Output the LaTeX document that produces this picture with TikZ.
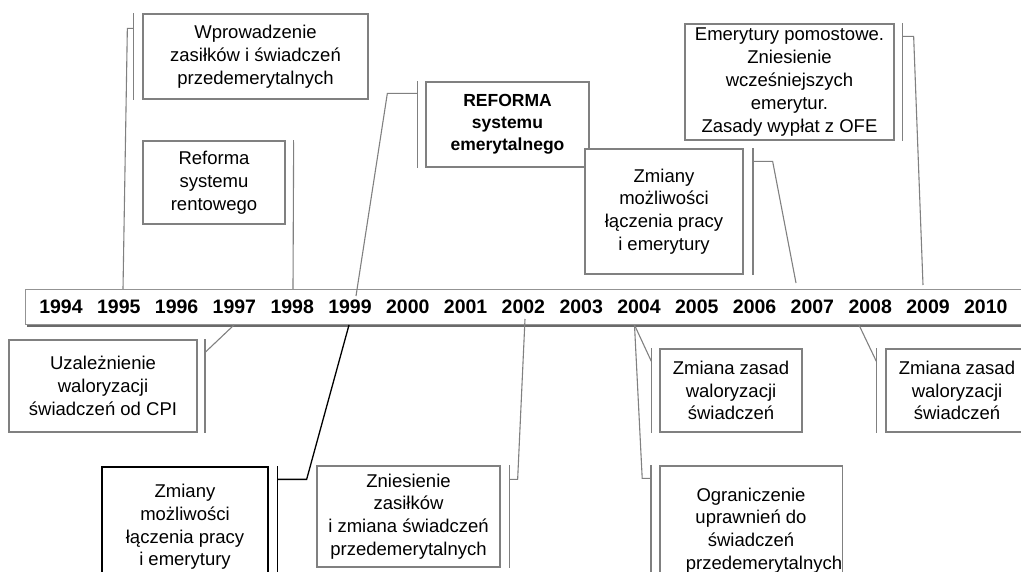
\documentclass[tikz,border=0pt]{standalone}
\usepackage{fontspec}
\setmainfont{Liberation Sans}
\usetikzlibrary{calc}
\definecolor{cg}{HTML}{808080}
\definecolor{cgd}{HTML}{6A6A6A}
\tikzset{
  cbox/.style={draw=cg, line width=1.3pt, fill=white, align=center, inner sep=0pt,
    font=\fontsize{18.5}{22.8}\selectfont},
  bbox/.style={cbox, draw=black},
  abar/.style={draw=cg, line width=1.5pt},
  bbar/.style={draw=black, line width=1.5pt},
  lead/.style={draw=cg, line width=1.1pt, line join=miter},
  blead/.style={draw=black, line width=1.3pt, line join=miter},
  yr/.style={font=\bfseries\fontsize{19.5}{20}\selectfont, anchor=base, inner sep=0pt},
}
\begin{document}
\begin{tikzpicture}[x=1pt,y=-1pt]
\useasboundingbox (0,0) rectangle (1021,572);
\clip (0,0) rectangle (1021,572);

% timeline bar with shadow
\fill[cgd] (26.5,291.5) rectangle (1040,327);
\node[draw=cg!85, line width=1pt, fill=white, minimum width=1015pt, minimum height=35pt,
  anchor=north west, inner sep=0pt] (tl) at (25,289) {};
\foreach \yy [count=\i from 0] in {1994,...,2010}
  \node[yr] (y\yy) at (61+57.8*\i,314) {\yy};

% targets on the timeline
\coordinate (t1) at (123,289);
\coordinate (t2) at (293,289);
\coordinate (t3) at (356,296);
\coordinate (t4) at (796,283);
\coordinate (t5) at (923,285);
\coordinate (t6) at (234,325);
\coordinate (t7) at (349,325);
\coordinate (t8) at (525,319);
\coordinate (t9) at (634.5,325);
\coordinate (t11) at (859,325);

% ---- top callouts
\node[cbox, minimum width=225pt, minimum height=85pt] (c1) at (255.5,56.5)
  {Wprowadzenie\\zasiłków i świadczeń\\przedemerytalnych};
\draw[abar] ($(c1.north west)+(-9,0)$) -- ($(c1.south west)+(-9,0)$);
\draw[lead] ($(c1.north west)+(-9,15)$) -- ++(-6,0) -- (t1);

\node[cbox, minimum width=142pt, minimum height=83pt] (c2) at (214,182.5)
  {Reforma\\systemu\\rentowego};
\draw[abar] ($(c2.north east)+(8,0)$) -- ($(c2.south east)+(8,0)$);
\draw[lead] ($(c2.north east)+(8,2)$) -- (t2);

\node[cbox, minimum width=163pt, minimum height=85pt, font=\bfseries\fontsize{17.5}{22}\selectfont] (c3) at (507.5,124.5)
  {REFORMA\\systemu\\emerytalnego};
\draw[abar] ($(c3.north west)+(-8,0)$) -- ($(c3.south west)+(-8,0)$);
\draw[lead] ($(c3.north west)+(-8,12)$) -- ++(-30,0) -- (t3);

\node[cbox, minimum width=158pt, minimum height=125pt] (c4) at (664,211.5)
  {Zmiany\\możliwości\\łączenia pracy\\i emerytury};
\draw[abar] ($(c4.north east)+(9.5,0)$) -- ($(c4.south east)+(9.5,0)$);
\draw[lead] ($(c4.north east)+(9.5,13)$) -- ++(19.5,0) -- (t4);

\node[cbox, minimum width=209pt, minimum height=116pt] (c5) at (789.5,82)
  {Emerytury pomostowe.\\Zniesienie\\wcześniejszych\\emerytur.\\Zasady wypłat z OFE};
\draw[abar] ($(c5.north east)+(8,0)$) -- ($(c5.south east)+(8,0)$);
\draw[lead] ($(c5.north east)+(8,13)$) -- ++(11,0) -- (t5);

% ---- bottom callouts
\node[cbox, minimum width=188pt, minimum height=92pt] (c6) at (103,386)
  {Uzależnienie\\waloryzacji\\świadczeń od CPI};
\draw[abar] ($(c6.north east)+(7.5,0)$) -- ($(c6.south east)+(7.5,0)$);
\draw[lead] ($(c6.north east)+(7.5,13)$) -- (t6);

\node[bbox, minimum width=166pt, minimum height=120pt] (c7) at (185,527)
  {Zmiany\\możliwości\\łączenia pracy\\i emerytury};
\draw[bbar] ($(c7.north east)+(9,0)$) -- ($(c7.south east)+(9,0)$);
\draw[blead] ($(c7.north east)+(9,13)$) -- ++(29,0) -- (t7);

\node[cbox, minimum width=183pt, minimum height=101pt] (c8) at (408.5,516.5)
  {Zniesienie\\zasiłków\\i zmiana świadczeń\\przedemerytalnych};
\draw[abar] ($(c8.north east)+(9,0)$) -- ($(c8.south east)+(9,0)$);
\draw[lead] ($(c8.north east)+(9,14)$) -- ++(8,0) -- (t8);

\node[cbox, minimum width=142pt, minimum height=83pt] (c9) at (731,390.5)
  {Zmiana zasad\\waloryzacji\\świadczeń};
\draw[abar] ($(c9.north west)+(-8,0)$) -- ($(c9.south west)+(-8,0)$);
\draw[lead] ($(c9.north west)+(-8,13)$) -- (t9);

\node[cbox, minimum width=182pt, minimum height=129pt] (c10) at (751,530.5)
  {Ograniczenie\\uprawnień do\\świadczeń\\\hspace*{26pt}przedemerytalnych};
\draw[abar] ($(c10.north west)+(-8,0)$) -- ($(c10.south west)+(-8,0)$);
\draw[lead] ($(c10.north west)+(-8,13)$) -- ++(-9,0) -- (t9);

\node[cbox, minimum width=142pt, minimum height=83pt] (c11) at (957,390.5)
  {Zmiana zasad\\waloryzacji\\świadczeń};
\draw[abar] ($(c11.north west)+(-9,0)$) -- ($(c11.south west)+(-9,0)$);
\draw[lead] ($(c11.north west)+(-9,13)$) -- (t11);
\end{tikzpicture}
\end{document}
